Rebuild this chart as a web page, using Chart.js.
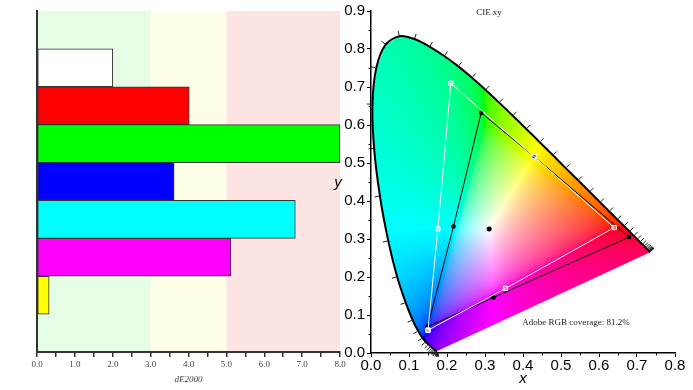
<!DOCTYPE html>
<html>
<head>
<meta charset="utf-8">
<script src="https://cdn.jsdelivr.net/npm/chart.js@4.4.0/dist/chart.umd.min.js"></script>
<style>
  html, body { margin: 0; padding: 0; background: #fff; }
  #wrap { position: relative; width: 693px; height: 390px; overflow: hidden; }
  #deBox { position: absolute; left: 0; top: 0; width: 348px; height: 390px; }
  #cieBox { position: absolute; left: 325px; top: 0; width: 368px; height: 390px; }
</style>
</head>
<body>
<div id="wrap">
  <div id="deBox"><canvas id="deChart"></canvas></div>
  <div id="cieBox"><canvas id="cieChart"></canvas></div>
</div>
<script>
// ---- dE2000 bars ----
const patchNames = ['', 'White', 'Red', 'Green', 'Blue', 'Cyan', 'Magenta', 'Yellow', ''];
const deltaE = [null, 2.0, 4.02, 8.0, 3.62, 6.82, 5.12, 0.32, null];
const patchColors = ['#ffffff', '#ffffff', '#ff0000', '#00ff00', '#0000ff', '#00ffff', '#ff00ff', '#ffff00', '#ffffff'];
const zoneFrom = [0, 3, 5];
const zoneTo = [3, 5, 8];
const zoneColors = ['#e4fde4', '#fffee6', '#ffe4e4'];

// ---- CIE 1931 spectral locus, 380-700 nm every 5 nm ----
const locusX = [0.1741, 0.1740, 0.1738, 0.1736, 0.1733, 0.1730, 0.1726, 0.1721, 0.1714, 0.1703,
  0.1689, 0.1669, 0.1644, 0.1611, 0.1566, 0.1510, 0.1440, 0.1355, 0.1241, 0.1096,
  0.0913, 0.0687, 0.0454, 0.0235, 0.0082, 0.0039, 0.0139, 0.0389, 0.0743, 0.1142,
  0.1547, 0.1929, 0.2296, 0.2658, 0.3016, 0.3373, 0.3731, 0.4087, 0.4441, 0.4788,
  0.5125, 0.5448, 0.5752, 0.6029, 0.6270, 0.6482, 0.6658, 0.6801, 0.6915, 0.7006,
  0.7079, 0.7140, 0.7190, 0.7230, 0.7260, 0.7283, 0.7300, 0.7311, 0.7320, 0.7327,
  0.7334, 0.7340, 0.7344, 0.7346, 0.7347];
const locusY = [0.0050, 0.0050, 0.0049, 0.0049, 0.0048, 0.0048, 0.0048, 0.0048, 0.0051, 0.0058,
  0.0069, 0.0086, 0.0109, 0.0138, 0.0177, 0.0227, 0.0297, 0.0399, 0.0578, 0.0868,
  0.1327, 0.2007, 0.2950, 0.4127, 0.5384, 0.6548, 0.7502, 0.8120, 0.8338, 0.8262,
  0.8059, 0.7816, 0.7543, 0.7243, 0.6923, 0.6589, 0.6245, 0.5896, 0.5547, 0.5202,
  0.4866, 0.4544, 0.4242, 0.3965, 0.3725, 0.3514, 0.3340, 0.3197, 0.3083, 0.2993,
  0.2920, 0.2859, 0.2809, 0.2770, 0.2740, 0.2717, 0.2700, 0.2689, 0.2680, 0.2673,
  0.2666, 0.2660, 0.2656, 0.2654, 0.2653];

// gamut outlines: B, C, G, Y, R, M, B
const targetX = [0.150, 0.176, 0.210, 0.429, 0.640, 0.354, 0.150];
const targetY = [0.060, 0.327, 0.710, 0.517, 0.330, 0.170, 0.060];
const measuredX = [0.149, 0.217, 0.290, 0.429, 0.679, 0.322, 0.149];
const measuredY = [0.069, 0.333, 0.632, 0.517, 0.305, 0.146, 0.069];
const whiteX = [0.311];
const whiteY = [0.326];
const coverageText = 'Adobe RGB coverage: 81.2%';

function toPoints(xs, ys) {
    return xs.map((v, i) => ({ x: v, y: ys[i] }));
}

// light background bands behind the bars
const zonePlugin = {
    id: 'zones',
    beforeDraw(chart) {
        const { ctx, chartArea, scales } = chart;
        ctx.save();
        zoneFrom.forEach((from, i) => {
            const x1 = scales.x.getPixelForValue(from);
            const x2 = scales.x.getPixelForValue(zoneTo[i]);
            ctx.fillStyle = zoneColors[i];
            ctx.fillRect(x1, chartArea.top, x2 - x1, chartArea.bottom - chartArea.top);
        });
        ctx.restore();
    }
};

new Chart(document.getElementById('deChart'), {
    type: 'bar',
    data: {
        labels: patchNames,
        datasets: [{
            data: deltaE,
            backgroundColor: patchColors,
            borderColor: '#333333',
            borderWidth: 1,
            borderSkipped: false,
            barPercentage: 1,
            categoryPercentage: 1
        }]
    },
    options: {
        indexAxis: 'y',
        responsive: true,
        maintainAspectRatio: false,
        animation: false,
        layout: { padding: { top: 11, right: 8, left: 0, bottom: 0 } },
        plugins: { legend: { display: false }, tooltip: { enabled: false } },
        scales: {
            x: {
                min: 0,
                max: 8,
                afterFit: s => { s.height = 38; },
                ticks: {
                    stepSize: 0.5,
                    autoSkip: false,
                    maxRotation: 0,
                    padding: 2,
                    color: '#444444',
                    font: { family: '"Liberation Serif", "Times New Roman", serif', size: 9 },
                    callback: v => Number.isInteger(v) ? v.toFixed(1) : ''
                },
                grid: { drawOnChartArea: false, tickLength: 5, color: '#333333', lineWidth: 1.5 },
                border: { color: '#333333', width: 2 },
                title: {
                    display: true,
                    text: 'dE2000',
                    color: '#444444',
                    padding: { top: 0, bottom: 5 },
                    font: { family: '"Liberation Serif", "Times New Roman", serif', size: 9, style: 'italic' }
                }
            },
            y: {
                afterFit: s => { s.width = 37; },
                ticks: { display: false },
                grid: { drawOnChartArea: false, drawTicks: false },
                border: { color: '#333333', width: 2 }
            }
        }
    },
    plugins: [zonePlugin]
});

// colour of a chromaticity: out-of-gamut values are desaturated with white, then scaled to full brightness
function xyToRgb(cx, cy) {
    const X = cx / cy, Y = 1, Z = (1 - cx - cy) / cy;
    let r = 3.2406 * X - 1.5372 * Y - 0.4986 * Z;
    let g = -0.9689 * X + 1.8758 * Y + 0.0415 * Z;
    let b = 0.0557 * X - 0.2040 * Y + 1.0570 * Z;
    const lo = Math.min(r, g, b, 0);
    r -= lo; g -= lo; b -= lo;
    const m = Math.max(r, g, b) || 1;
    const enc = c => {
        c = c / m;
        c = c <= 0.0031308 ? 12.92 * c : 1.055 * Math.pow(c, 1 / 2.4) - 0.055;
        return Math.round(Math.min(1, c) * 255);
    };
    return [enc(r), enc(g), enc(b)];
}

function locusPath(ctx, xs, ys) {
    ctx.beginPath();
    locusX.forEach((lx, i) => {
        const px = xs.getPixelForValue(lx), py = ys.getPixelForValue(locusY[i]);
        if (i === 0) ctx.moveTo(px, py); else ctx.lineTo(px, py);
    });
    ctx.closePath();
}

const horseshoePlugin = {
    id: 'horseshoe',
    beforeDatasetsDraw(chart) {
        const { ctx, chartArea: a, scales: { x, y } } = chart;
        const w = Math.ceil(a.right - a.left), h = Math.ceil(a.bottom - a.top);
        const off = document.createElement('canvas');
        off.width = w; off.height = h;
        const octx = off.getContext('2d');
        const img = octx.createImageData(w, h);
        for (let j = 0; j < h; j++) {
            const cy = y.getValueForPixel(a.top + j + 0.5);
            for (let i = 0; i < w; i++) {
                const cx = x.getValueForPixel(a.left + i + 0.5);
                if (cy <= 0.001) continue;
                const c = xyToRgb(cx, cy);
                const k = (j * w + i) * 4;
                img.data[k] = c[0]; img.data[k + 1] = c[1]; img.data[k + 2] = c[2]; img.data[k + 3] = 255;
            }
        }
        octx.putImageData(img, 0, 0);
        ctx.save();
        locusPath(ctx, x, y);
        ctx.clip();
        ctx.drawImage(off, a.left, a.top);
        ctx.restore();
    },
    afterDatasetDraw(chart, args) {
        if (args.index !== 0) return;
        // wavelength ticks on the outside of the locus
        const { ctx, scales: { x, y } } = chart;
        const px = locusX.map(v => x.getPixelForValue(v));
        const py = locusY.map(v => y.getPixelForValue(v));
        const cx = x.getPixelForValue(0.33), cy = y.getPixelForValue(0.33);
        ctx.save();
        ctx.strokeStyle = '#222';
        ctx.lineWidth = 1;
        for (let i = 1; i < px.length - 1; i++) {
            let tx = px[i + 1] - px[i - 1], ty = py[i + 1] - py[i - 1];
            const len = Math.hypot(tx, ty) || 1;
            let nx = -ty / len, ny = tx / len;
            if ((px[i] - cx) * nx + (py[i] - cy) * ny < 0) { nx = -nx; ny = -ny; }
            ctx.beginPath();
            ctx.moveTo(px[i] + nx * 1, py[i] + ny * 1);
            ctx.lineTo(px[i] + nx * 5.5, py[i] + ny * 5.5);
            ctx.stroke();
        }
        ctx.restore();
    },
    afterDraw(chart) {
        const { ctx, chartArea: a, scales: { x, y } } = chart;
        ctx.save();
        // minor ticks
        ctx.strokeStyle = '#000';
        ctx.lineWidth = 1;
        for (let v = 0.05; v < 0.8; v += 0.1) {
            const p = Math.round(x.getPixelForValue(v)) + 0.5;
            ctx.beginPath(); ctx.moveTo(p, a.bottom); ctx.lineTo(p, a.bottom + 2.5); ctx.stroke();
        }
        for (let v = 0.05; v < 0.9; v += 0.1) {
            const p = Math.round(y.getPixelForValue(v)) + 0.5;
            ctx.beginPath(); ctx.moveTo(a.left, p); ctx.lineTo(a.left - 2.5, p); ctx.stroke();
        }
        // texts
        ctx.fillStyle = '#222';
        ctx.textAlign = 'center';
        ctx.textBaseline = 'middle';
        ctx.font = '9px "Liberation Serif", "Times New Roman", serif';
        ctx.fillText('CIE xy', 489 - 325, 13);
        ctx.fillText(coverageText, 576 - 325, 323);
        ctx.fillStyle = '#000';
        ctx.font = 'italic 15px "Liberation Sans", Arial, sans-serif';
        ctx.fillText('y', 338 - 325, 183);
        ctx.restore();
    }
};

const axisFont = { family: '"Liberation Sans", Arial, sans-serif', size: 15 };

new Chart(document.getElementById('cieChart'), {
    type: 'scatter',
    data: {
        datasets: [{
            data: toPoints(locusX, locusY),
            showLine: true,
            borderColor: '#000000',
            borderWidth: 2,
            tension: 0.3,
            pointRadius: 0
        }, {
            data: toPoints(targetX, targetY),
            showLine: true,
            borderColor: '#ffffff',
            borderWidth: 1,
            pointStyle: 'rect',
            pointRadius: 3,
            pointBorderColor: '#ffffff',
            pointBackgroundColor: 'rgba(255,255,255,0.3)',
            pointBorderWidth: 1
        }, {
            data: toPoints(measuredX, measuredY),
            showLine: true,
            borderColor: '#000000',
            borderWidth: 1,
            pointRadius: 2.3,
            pointBorderWidth: 0,
            pointBackgroundColor: '#000000'
        }, {
            data: toPoints(whiteX, whiteY),
            pointRadius: 2.5,
            pointBorderWidth: 0,
            pointBackgroundColor: '#000000'
        }]
    },
    options: {
        responsive: true,
        maintainAspectRatio: false,
        animation: false,
        layout: { padding: { top: 11, right: 18, left: 0, bottom: 0 } },
        plugins: { legend: { display: false }, tooltip: { enabled: false } },
        scales: {
            x: {
                type: 'linear',
                min: 0,
                max: 0.8,
                afterFit: s => { s.height = 37; },
                ticks: {
                    stepSize: 0.1,
                    padding: 0,
                    maxRotation: 0,
                    color: '#000000',
                    font: axisFont,
                    callback: v => v.toFixed(1)
                },
                grid: { drawOnChartArea: false, tickLength: 4, color: '#000000' },
                border: { color: '#000000', width: 1.5 },
                title: {
                    display: true,
                    text: 'x',
                    color: '#000000',
                    padding: { top: 0, bottom: 2 },
                    font: { family: '"Liberation Sans", Arial, sans-serif', size: 15, style: 'italic' }
                }
            },
            y: {
                type: 'linear',
                min: 0,
                max: 0.9,
                afterFit: s => { s.width = 46; },
                ticks: {
                    stepSize: 0.1,
                    padding: 2,
                    color: '#000000',
                    font: axisFont,
                    callback: v => v.toFixed(1)
                },
                grid: { drawOnChartArea: false, tickLength: 4, color: '#000000' },
                border: { color: '#000000', width: 1.5 }
            }
        }
    },
    plugins: [horseshoePlugin]
});
</script>
</body>
</html>
